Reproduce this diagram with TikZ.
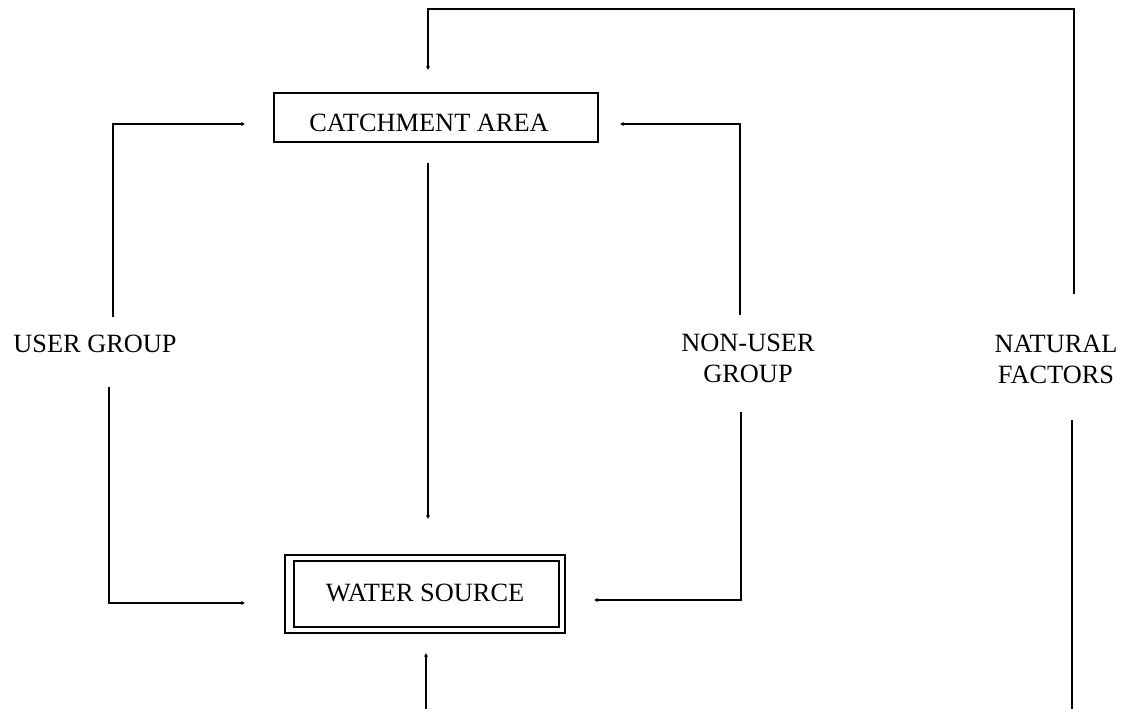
\documentclass[tikz,border=0pt]{standalone}
\usepackage{fontspec}
\setmainfont{Liberation Serif}
\usetikzlibrary{arrows.meta}
\tikzset{
  txt/.style={inner sep=0pt,align=center,font=\fontsize{15}{17.6}\selectfont},
  catchbox/.style={txt,draw,line width=1.1pt,minimum width=184pt,text height=22.2pt,text depth=5.7pt},
  waterbox/.style={txt,draw,line width=1.5pt,minimum width=159.4pt,text height=26.7pt,text depth=17.6pt},
  link/.style={line width=0.6pt},
  flow/.style={line width=1.1pt},
}

\begin{document}
\begin{tikzpicture}[x=0.02cm,y=-0.02cm,>={Latex[length=2pt,width=2.4pt]}]
\useasboundingbox (0,0) rectangle (1128,709);
% boxes and texts
\node[catchbox] (catch) at (436,117.5) {CATCHMENT AREA\hspace*{8pt}};
\node[waterbox] (water) at (425,594) {WATER SOURCE};
\draw[line width=1.3pt] ([shift={(10,7)}]water.north west) rectangle ([shift={(-7,-7)}]water.south east);
\node[txt] (user) at (95,343.5) {USER GROUP};
\node[txt] (nonuser) at (748,358) {NON-USER\\GROUP};
\node[txt] (natural) at (1056,359.5) {NATURAL\\FACTORS};
% free ends of the connectors
\coordinate (ca-in) at (428,70);
\coordinate (ca-out) at (428,163);
\coordinate (ws-in) at (428,519);
\coordinate (ws-out) at (426,653);
\coordinate (ws-src) at (426,709);
\coordinate (ca-w) at (245,124);
\coordinate (ca-e) at (620,124);
\coordinate (ws-w) at (245,603);
\coordinate (ws-e) at (594,600);
\coordinate (ug-n) at (113,317);
\coordinate (ug-s) at (109,387);
\coordinate (ng-n) at (740,315);
\coordinate (ng-s) at (741,412);
\coordinate (nf-n) at (1074,294);
\coordinate (nf-s) at (1072,420);
\coordinate (nf-end) at (1072,709);
% connectors
\draw[link,->] (nf-n) -- ++(0,-285) -| (ca-in);
\draw[flow,->] (ca-out) -- (ws-in);
\draw[link,->] (ws-src) -- (ws-out);
\draw[link,->] (ug-n) |- (ca-w);
\draw[link,->] (ug-s) |- (ws-w);
\draw[link,->] (ng-n) |- (ca-e);
\draw[link,->] (ng-s) |- (ws-e);
\draw[link] (nf-s) -- (nf-end);
\end{tikzpicture}
\end{document}
